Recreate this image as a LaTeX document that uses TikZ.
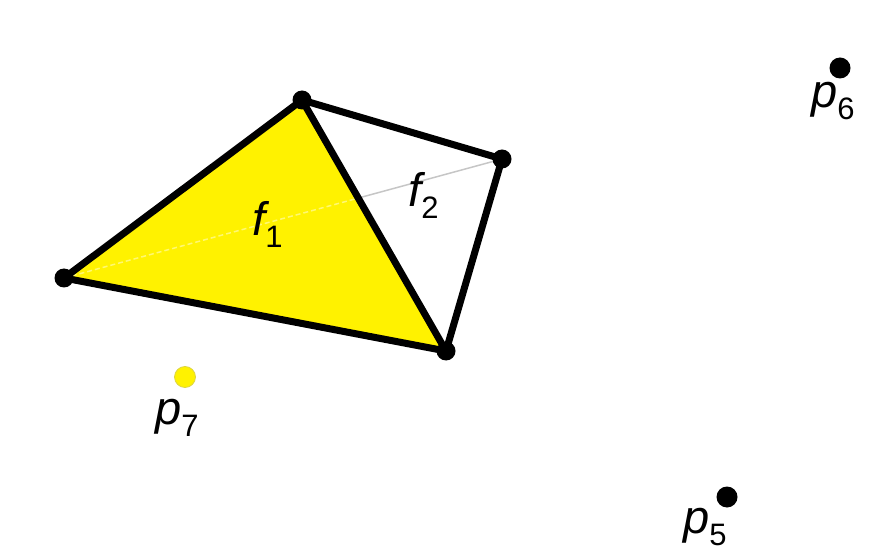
\documentclass[tikz,border=0pt]{standalone}
\usepackage{fontspec}
\setmainfont{Liberation Sans}
\usetikzlibrary{intersections}
\newcommand{\ptlab}[2]{{\fontsize{47}{50}\selectfont\itshape #1}\raisebox{-12pt}{\fontsize{31}{33}\selectfont #2}}

\begin{document}
\begin{tikzpicture}[
  x=1pt, y=-1pt,
  vertex/.style={circle, fill=black, inner sep=0pt, minimum size=19pt},
  freept/.style={circle, fill=black, inner sep=0pt, minimum size=21pt},
  hollowpt/.style={circle, fill=yellow, draw=yellow!70!gray, line width=0.8pt, inner sep=0pt, minimum size=21pt},
  edge/.style={draw, line width=7pt, line join=round, line cap=round},
  diag/.style={draw, gray!45, line width=1.5pt},
  faintdiag/.style={draw, yellow!55!white, line width=1.5pt, dash pattern=on 5pt off 3pt},
  lab/.style={inner sep=0pt, anchor=base west}
]
\useasboundingbox (0,0) rectangle (894,553);
% vertices of the two faces
\coordinate (a) at (64,278);
\coordinate (b) at (302,100);
\coordinate (c) at (502,159);
\coordinate (d) at (446,351);
\coordinate (m) at (intersection of a--c and b--d);

\fill[yellow] (a) -- (b) -- (d) -- cycle;
\path[diag] (m) -- (c);
\path[faintdiag] (a) -- (m);
\path[edge] (a) -- (b) -- (c) -- (d) -- cycle;
\path[edge] (b) -- (d);

\foreach \v in {a,b,c,d}
  \node[vertex] (dot-\v) at (\v) {};

% face labels
\node[lab] (f1) at (252,236) {\ptlab{f}{1}};
\node[lab] (f2) at (408,207) {\ptlab{f}{2}};

% isolated points
\node[freept] (p6) at (840,68) {};
\node[freept] (p5) at (727,497) {};
\node[hollowpt] (p7) at (185,377) {};
\node[lab] (l6) at (811,108) {\ptlab{p}{6}};
\node[lab] (l5) at (683,533) {\ptlab{p}{5}};
\node[lab] (l7) at (155,424) {\ptlab{p}{7}};
\end{tikzpicture}
\end{document}
